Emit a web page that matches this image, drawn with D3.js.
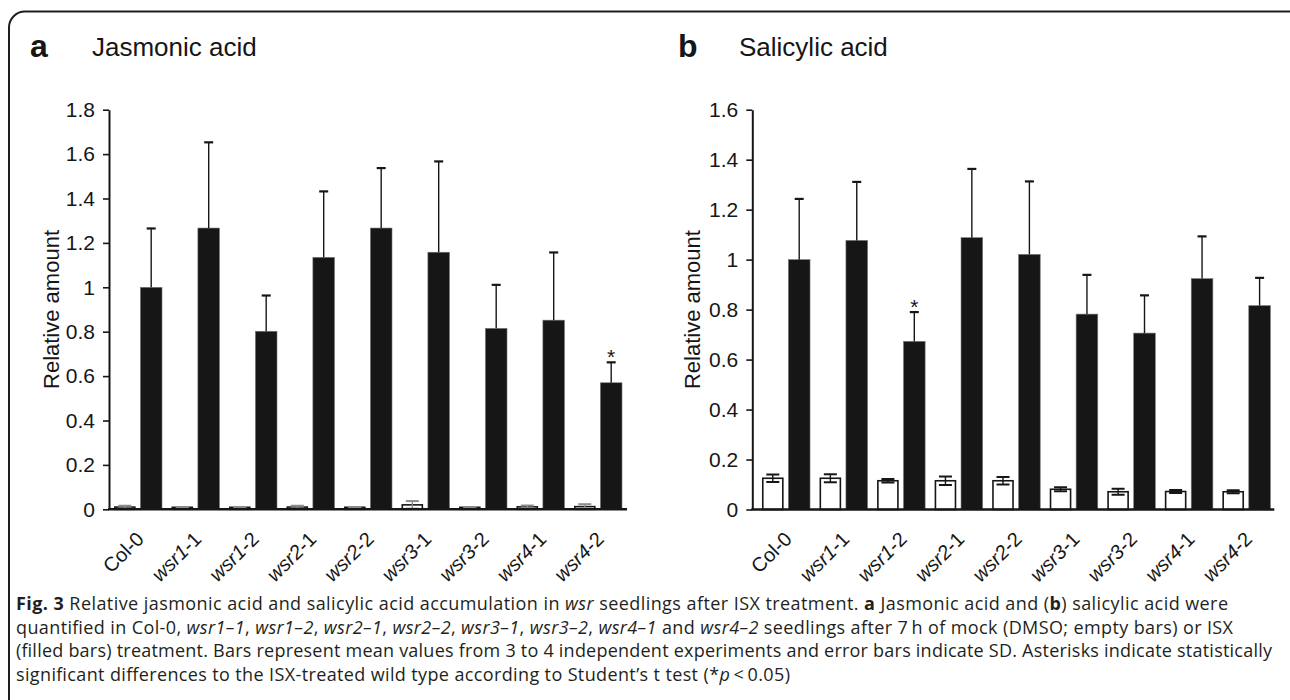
<!DOCTYPE html>
<html>
<head>
<meta charset="utf-8">
<script src="https://cdn.jsdelivr.net/npm/d3@7"></script>
<style>
    body { margin: 0; background: #fff; }
    svg { display: block; }
</style>
</head>
<body>
<div id="chart"></div>
<script>

// genotypes on the x axis
const categories = ["Col-0", "wsr1-1", "wsr1-2", "wsr2-1", "wsr2-2", "wsr3-1", "wsr3-2", "wsr4-1", "wsr4-2"];

// jasmonic acid, mock (empty) and ISX (filled)
const jaMock = [0.010, 0.009, 0.009, 0.010, 0.009, 0.020, 0.009, 0.011, 0.012];
const jaMockSd = [0.006, 0.001, 0.001, 0.006, 0.001, 0.017, 0.001, 0.006, 0.011];
const jaIsx = [1.000, 1.267, 0.802, 1.135, 1.267, 1.158, 0.815, 0.852, 0.570];
const jaIsxSd = [0.265, 0.386, 0.161, 0.297, 0.270, 0.409, 0.196, 0.305, 0.092];
const jaSignificant = ["wsr4-2"];
const jaTicks = [0, 0.2, 0.4, 0.6, 0.8, 1, 1.2, 1.4, 1.6, 1.8];

// salicylic acid
const saMock = [0.125, 0.125, 0.115, 0.115, 0.115, 0.081, 0.071, 0.072, 0.071];
const saMockSd = [0.015, 0.016, 0.007, 0.017, 0.015, 0.008, 0.012, 0.006, 0.006];
const saIsx = [1.000, 1.077, 0.673, 1.088, 1.021, 0.782, 0.706, 0.924, 0.816];
const saIsxSd = [0.243, 0.234, 0.117, 0.275, 0.292, 0.157, 0.151, 0.169, 0.111];
const saSignificant = ["wsr1-2"];
const saTicks = [0, 0.2, 0.4, 0.6, 0.8, 1, 1.2, 1.4, 1.6];

// caption, split in lines of [text, style]
const captionLines = [
    [["Fig. 3", "b"], [" Relative jasmonic acid and salicylic acid accumulation in ", ""], ["wsr", "i"],
     [" seedlings after ISX treatment. ", ""], ["a", "b"], [" Jasmonic acid and (", ""], ["b", "b"],
     [") salicylic acid were", ""]],
    [["quantified in Col-0, ", ""], ["wsr1\u20131", "i"], [", ", ""], ["wsr1\u20132", "i"], [", ", ""],
     ["wsr2\u20131", "i"], [", ", ""], ["wsr2\u20132", "i"], [", ", ""], ["wsr3\u20131", "i"], [", ", ""],
     ["wsr3\u20132", "i"], [", ", ""], ["wsr4\u20131", "i"], [" and ", ""], ["wsr4\u20132", "i"],
     [" seedlings after 7\u2009h of mock (DMSO; empty bars) or ISX", ""]],
    [["(filled bars) treatment. Bars represent mean values from 3 to 4 independent experiments and error bars indicate SD. Asterisks indicate statistically", ""]],
    [["significant differences to the ISX-treated wild type according to Student\u2019s t test (*", ""], ["p", "i"], ["\u2009<\u20090.05)", ""]]
];
// measured length of each caption line
const captionWidths = [1212, 1217, 1256, 774];

const width = 1290;
const height = 700;
const ink = "#161616";

const svg = d3.select("#chart")
    .append("svg")
    .attr("width", width)
    .attr("height", height);

// frame round the figure
svg.append("rect")
    .attr("x", 9)
    .attr("y", 11.5)
    .attr("width", 1295)
    .attr("height", 800)
    .attr("rx", 16)
    .attr("fill", "none")
    .attr("stroke", "#1e1e1e")
    .attr("stroke-width", 2);

const panels = [
    {
        letter: "a", title: "Jasmonic acid",
        mock: jaMock, mockSd: jaMockSd, isx: jaIsx, isxSd: jaIsxSd,
        significant: jaSignificant, ticks: jaTicks, max: 1.8,
        axisX: 109, axisEnd: 627, first: 138, step: 57.5,
        top: 109.7, base: 509.3, letterX: 30, titleX: 92, labelX: 51,
        mockErrColor: "#8c8c8c"
    },
    {
        letter: "b", title: "Salicylic acid",
        mock: saMock, mockSd: saMockSd, isx: saIsx, isxSd: saIsxSd,
        significant: saSignificant, ticks: saTicks, max: 1.6,
        axisX: 752.3, axisEnd: 1274.3, first: 786, step: 57.55,
        top: 109.7, base: 509.5, letterX: 678, titleX: 739, labelX: 692,
        mockErrColor: ink
    }
];

panels.forEach(function(p) {
    drawPanel(p);
});

function drawPanel(p) {

    const g = svg.append("g");

    const rows = categories.map(function(c, i) {
        return {
            name: c,
            mock: p.mock[i], mockSd: p.mockSd[i],
            isx: p.isx[i], isxSd: p.isxSd[i]
        };
    });

    // scales
    const x0 = d3.scaleBand()
        .domain(categories)
        .range([p.first - p.step / 2, p.first + p.step * (categories.length - 0.5)])
        .paddingInner(0.165)
        .paddingOuter(0.0825);

    const x1 = d3.scaleBand()
        .domain(["mock", "isx"])
        .range([0, x0.bandwidth()])
        .paddingInner(0.18);

    const y = d3.scaleLinear()
        .domain([0, p.max])
        .range([p.base, p.top]);

    // heading
    g.append("text")
        .attr("x", p.letterX)
        .attr("y", 57)
        .attr("font-family", "Liberation Sans, Arial, sans-serif")
        .attr("font-weight", "bold")
        .attr("font-size", 32)
        .attr("fill", ink)
        .text(p.letter);

    g.append("text")
        .attr("x", p.titleX)
        .attr("y", 56)
        .attr("font-family", "Liberation Sans, Arial, sans-serif")
        .attr("font-size", 26)
        .attr("fill", ink)
        .text(p.title);

    // y axis
    const yAxis = d3.axisLeft(y)
        .tickValues(p.ticks)
        .tickSize(6)
        .tickSizeOuter(0)
        .tickPadding(8)
        .tickFormat(d3.format("~f"));

    const ya = g.append("g")
        .attr("transform", "translate(" + p.axisX + ",0)")
        .call(yAxis);

    ya.select(".domain")
        .attr("stroke", ink)
        .attr("stroke-width", 2);

    ya.selectAll(".tick line")
        .attr("stroke", ink)
        .attr("stroke-width", 1.6);

    ya.selectAll(".tick text")
        .attr("font-family", "Liberation Sans, Arial, sans-serif")
        .attr("font-size", 21)
        .attr("fill", ink);

    g.append("text")
        .attr("transform", "translate(" + p.labelX + "," + y(p.max * 0.5) + ") rotate(-90)")
        .attr("text-anchor", "middle")
        .attr("dominant-baseline", "central")
        .attr("font-family", "Liberation Sans, Arial, sans-serif")
        .attr("font-size", 22)
        .attr("fill", ink)
        .text("Relative amount");

    const groups = g.selectAll(".pair")
        .data(rows)
        .enter()
        .append("g")
        .attr("class", "pair")
        .attr("transform", function(d) {
            return "translate(" + x0(d.name) + ",0)";
        });

    // mock bars, empty
    groups.append("rect")
        .attr("x", x1("mock") + 0.8)
        .attr("y", function(d) { return y(d.mock); })
        .attr("width", x1.bandwidth() - 1.6)
        .attr("height", function(d) { return y(0) - y(d.mock); })
        .attr("fill", "#fff")
        .attr("stroke", ink)
        .attr("stroke-width", 1.6);

    // ISX bars, filled
    groups.append("rect")
        .attr("x", x1("isx"))
        .attr("y", function(d) { return y(d.isx); })
        .attr("width", x1.bandwidth())
        .attr("height", function(d) { return y(0) - y(d.isx); })
        .attr("fill", ink)
        .attr("stroke", "#7a7a7a")
        .attr("stroke-width", 0.6);

    // error bars for mock, both ways
    const mx = x1("mock") + x1.bandwidth() / 2;

    groups.append("line")
        .attr("x1", mx).attr("x2", mx)
        .attr("y1", function(d) { return y(d.mock - d.mockSd); })
        .attr("y2", function(d) { return y(d.mock + d.mockSd); })
        .attr("stroke", p.mockErrColor)
        .attr("stroke-width", 1.4);

    [1, -1].forEach(function(sign) {
        groups.append("line")
            .attr("x1", mx - 6.5).attr("x2", mx + 6.5)
            .attr("y1", function(d) { return y(d.mock + sign * d.mockSd); })
            .attr("y2", function(d) { return y(d.mock + sign * d.mockSd); })
            .attr("stroke", p.mockErrColor)
            .attr("stroke-width", 2);
    });

    // error bars for ISX, upward only
    const fx = x1("isx") + x1.bandwidth() / 2;

    groups.append("line")
        .attr("x1", fx).attr("x2", fx)
        .attr("y1", function(d) { return y(d.isx); })
        .attr("y2", function(d) { return y(d.isx + d.isxSd); })
        .attr("stroke", ink)
        .attr("stroke-width", 1.4);

    groups.append("line")
        .attr("x1", fx - 4.5).attr("x2", fx + 4.5)
        .attr("y1", function(d) { return y(d.isx + d.isxSd); })
        .attr("y2", function(d) { return y(d.isx + d.isxSd); })
        .attr("stroke", ink)
        .attr("stroke-width", 2.2);

    // asterisks
    groups.filter(function(d) { return p.significant.indexOf(d.name) >= 0; })
        .append("text")
        .attr("x", fx)
        .attr("y", function(d) { return y(d.isx + d.isxSd) + 2; })
        .attr("text-anchor", "middle")
        .attr("font-family", "Liberation Sans, Arial, sans-serif")
        .attr("font-size", 21)
        .attr("fill", ink)
        .text("*");

    // x axis line
    g.append("line")
        .attr("x1", p.axisX - 1)
        .attr("x2", p.axisEnd)
        .attr("y1", y(0))
        .attr("y2", y(0))
        .attr("stroke", ink)
        .attr("stroke-width", 2.6);

    // rotated genotype labels
    const labels = groups.append("text")
        .attr("transform", function() {
            return "translate(" + (x0.bandwidth() / 2 + 7) + "," + (y(0) + 31) + ") rotate(-45)";
        })
        .attr("text-anchor", "end")
        .attr("font-family", "Liberation Sans, Arial, sans-serif")
        .attr("font-size", 20)
        .attr("fill", ink);

    labels.each(function(d) {
        const t = d3.select(this);
        const parts = d.name.match(/^(wsr\d)(-\d)$/);
        if (parts) {
            t.append("tspan").attr("font-style", "italic").text(parts[1]);
            t.append("tspan").text(parts[2]);
        }
        else {
            t.text(d.name);
        }
    });
}

// caption
const caption = svg.append("g")
    .attr("font-family", "Open Sans, sans-serif")
    .attr("font-size", 18)
    .attr("fill", "#231f20");

captionLines.forEach(function(line, i) {

    const t = caption.append("text")
        .attr("x", 16)
        .attr("y", 610 + i * 23.6)
        .attr("textLength", captionWidths[i])
        .attr("lengthAdjust", "spacing");

    line.forEach(function(seg) {
        const s = t.append("tspan").text(seg[0]);
        if (seg[1] === "b") {
            s.attr("font-weight", "bold");
        }
        if (seg[1] === "i") {
            s.attr("font-style", "italic");
        }
    });
});

</script>
</body>
</html>
